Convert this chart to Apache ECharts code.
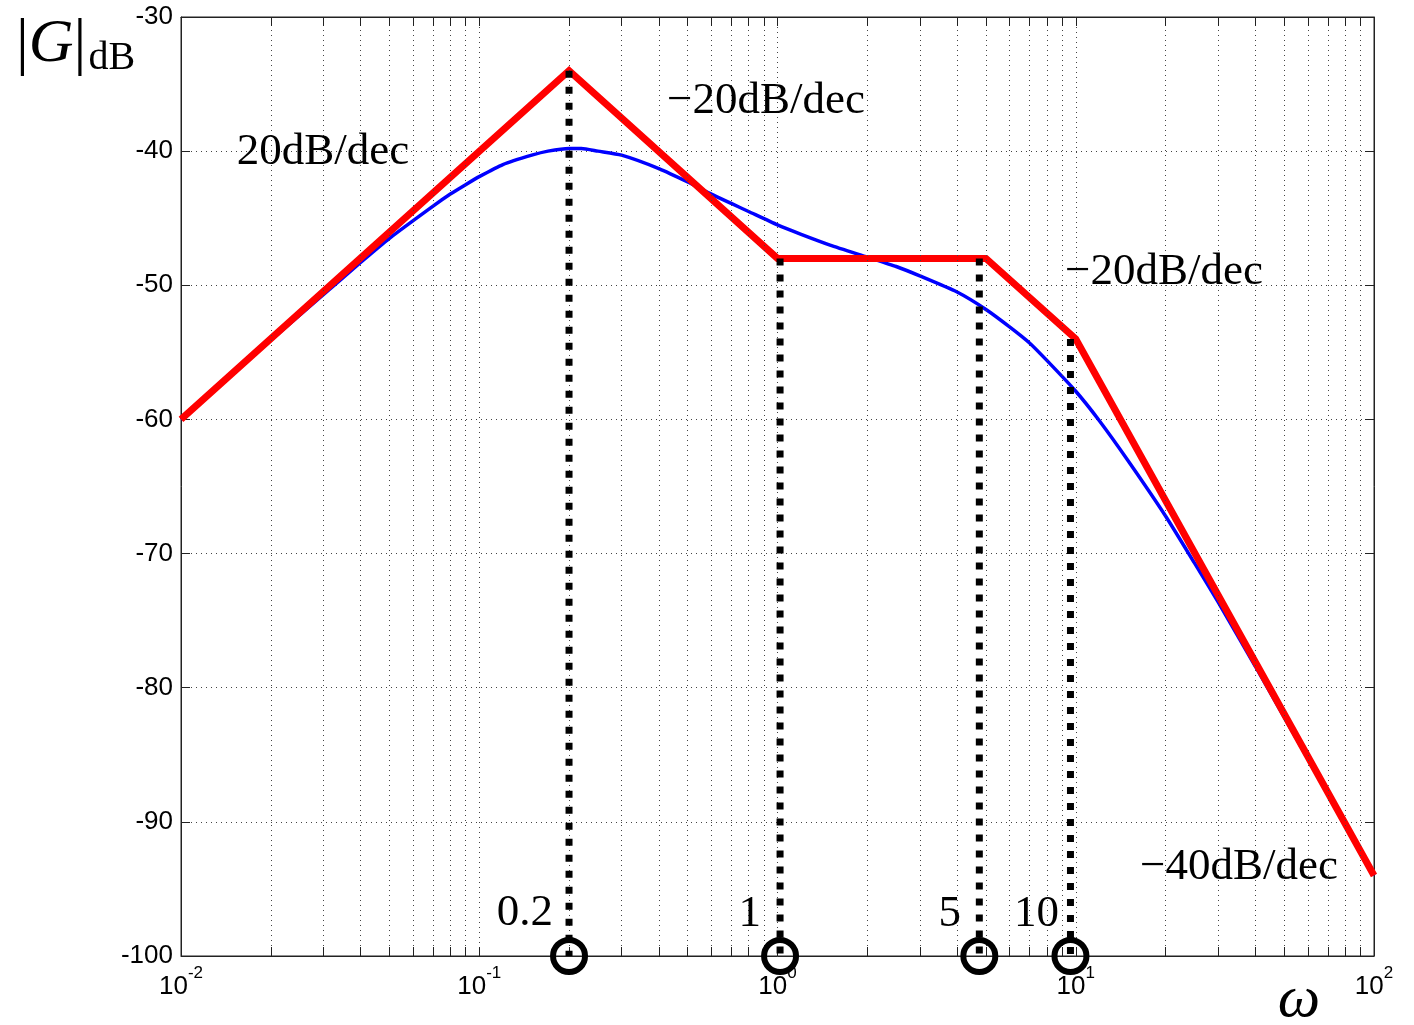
<!DOCTYPE html>
<html>
<head>
<meta charset="utf-8">
<script src="https://cdn.jsdelivr.net/npm/echarts@6/dist/echarts.min.js"></script>
<style>
html,body{margin:0;padding:0;background:#fff;}
#c{width:1414px;height:1025px;}
</style>
</head>
<body>
<div id="c"></div>
<script>
// ---- data ----
// actual magnitude (blue)
const omegaBlue = [0.01,0.015,0.02,0.03,0.04,0.05,0.07,0.08,0.09,0.1,0.12,0.15,0.17,0.2,0.22,0.25,0.3,0.4,0.5,0.6,0.7,0.8,1,1.2,1.5,2,2.5,3,4,5,6,7,8,10,12,15,20,25,30,40,50,70,100];
const magBlue   = [-60.0,-56.5,-54.1,-50.7,-48.3,-46.5,-44.1,-43.2,-42.5,-41.9,-41.0,-40.3,-40.0,-39.8,-39.8,-40.0,-40.3,-41.3,-42.3,-43.2,-43.9,-44.5,-45.5,-46.2,-47.0,-47.9,-48.6,-49.3,-50.5,-51.8,-53.1,-54.3,-55.6,-57.9,-60.1,-63.1,-67.2,-70.7,-73.6,-78.4,-82.2,-87.9,-94.0];
// asymptotic approximation (red)
const omegaRed = [0.01,0.2,1,5,10,100];
const magRed   = [-60,-34,-48,-48,-54,-94];
// corner-frequency markers (dotted lines + circles), as drawn
const markerOmega = [0.2,1.02,4.75,9.6];
const markerTop   = [-34,-48,-48,-54];
const markerText  = ['0.2','1','5','10'];
const slopeText   = ['20dB/dec','\u221220dB/dec','\u221220dB/dec','\u221240dB/dec'];
// axes
const xMin = 0.01, xMax = 100;
const yMin = -100, yMax = -30, yStep = 10;
const decades = [0.01,0.1,1,10];
const minorMult = [2,3,4,5,6,7,8,9];

const minorVals = [];
decades.forEach(d => minorMult.forEach(m => minorVals.push(+(d*m).toPrecision(3))));

const chart = echarts.init(document.getElementById('c'), null, {renderer:'canvas'});

const gridDot = {color:'#444', width:1, type:[1,4]};
const tickLen = 9;
const tickDb = tickLen * (yMax - yMin) / (1025 - 17 - 69);

const dottedSeries = markerOmega.map((w,i) => ({
  type:'line', data:[[w,markerTop[i]],[w,yMin]], symbol:'none', z:5,
  lineStyle:{color:'#000', width:7, type:[7,9], cap:'butt', opacity:1}, animation:false, silent:true
}));

const serif = '"Liberation Serif", "DejaVu Serif", serif';

const option = {
  animation:false,
  backgroundColor:'#fff',
  grid:{left:181, right:40, top:17, bottom:69, show:true, borderColor:'#222', borderWidth:1, backgroundColor:'transparent'},
  xAxis:[{
    type:'log', logBase:10, min:xMin, max:xMax, splitNumber:4,
    axisLine:{show:true, onZero:false, lineStyle:{color:'#222', width:1}},
    axisTick:{show:true, inside:true, length:tickLen, lineStyle:{color:'#222'}},
    splitLine:{show:true, lineStyle:gridDot},
    axisLabel:{
      margin:9,
      formatter:(v)=>'{b|10}{s|' + Math.round(Math.log10(v)) + '}',
      rich:{
        b:{fontFamily:'"Liberation Sans", Arial, sans-serif', fontSize:26, color:'#000'},
        s:{fontFamily:'"Liberation Sans", Arial, sans-serif', fontSize:17, color:'#000', padding:[0,0,27,0]}
      }
    }
  },{
    type:'log', logBase:10, min:xMin, max:xMax, splitNumber:4, position:'top',
    axisLine:{show:true, onZero:false, lineStyle:{color:'#222', width:1}},
    axisTick:{show:true, inside:true, length:tickLen, lineStyle:{color:'#222'}},
    axisLabel:{show:false}, splitLine:{show:false}
  }],
  yAxis:[{
    type:'value', min:yMin, max:yMax, interval:yStep,
    axisLine:{show:true, onZero:false, lineStyle:{color:'#222', width:1}},
    axisTick:{show:true, inside:true, length:tickLen, lineStyle:{color:'#222'}},
    splitLine:{show:true, lineStyle:gridDot},
    axisLabel:{margin:8, fontFamily:'"Liberation Sans", Arial, sans-serif', fontSize:26, color:'#000'}
  },{
    type:'value', min:yMin, max:yMax, interval:yStep, position:'right',
    axisLine:{show:true, onZero:false, lineStyle:{color:'#222', width:1}},
    axisTick:{show:true, inside:true, length:tickLen, lineStyle:{color:'#222'}},
    axisLabel:{show:false}, splitLine:{show:false}
  }],
  series:[
    {
      type:'line', data:[], silent:true, z:1,
      markLine:{
        silent:true, symbol:'none', label:{show:false}, animation:false,
        data: [
          ...minorVals.map(v => ({xAxis:v, lineStyle:gridDot})),
          ...minorVals.map(v => [{coord:[v,yMin], lineStyle:{color:'#222', width:1, type:'solid'}},{coord:[v,yMin+tickDb]}]),
          ...minorVals.map(v => [{coord:[v,yMax], lineStyle:{color:'#222', width:1, type:'solid'}},{coord:[v,yMax-tickDb]}])
        ]
      }
    },
    {
      type:'line', name:'actual', data:omegaBlue.map((w,i)=>[w,magBlue[i]]),
      symbol:'none', smooth:0.2, z:3,
      lineStyle:{color:'#0000ff', width:3.5}
    },
    {
      type:'line', name:'asymptote', data:omegaRed.map((w,i)=>[w,magRed[i]]),
      symbol:'none', z:4,
      lineStyle:{color:'#ff0000', width:7, join:'miter'}
    },
    ...dottedSeries,
    {
      type:'scatter', data:markerOmega.map(w=>[w,yMin]), clip:false, z:6,
      symbol:'circle', symbolSize:32,
      itemStyle:{color:'rgba(0,0,0,0)', borderColor:'#000', borderWidth:6, opacity:1}
    }
  ],
  graphic:[
    {type:'text', x:16, y:12, z:10, style:{
      text:'{v||}{g|G}{v||}{d|dB}',
      rich:{
        v:{fontFamily:serif, fontSize:64, fill:'#000', color:'#000'},
        g:{fontFamily:serif, fontStyle:'italic', fontSize:62, color:'#000', fill:'#000'},
        d:{fontFamily:serif, fontSize:40, color:'#000', fill:'#000', padding:[26,0,0,2]}
      }
    }},
    {type:'text', x:323, y:152, z:10, style:{text:slopeText[0], font:'45px '+serif, fill:'#000', align:'center', verticalAlign:'middle'}},
    {type:'text', x:766, y:101, z:10, style:{text:slopeText[1], font:'45px '+serif, fill:'#000', align:'center', verticalAlign:'middle'}},
    {type:'text', x:1164, y:272, z:10, style:{text:slopeText[2], font:'45px '+serif, fill:'#000', align:'center', verticalAlign:'middle'}},
    {type:'text', x:1239, y:867, z:10, style:{text:slopeText[3], font:'45px '+serif, fill:'#000', align:'center', verticalAlign:'middle'}},
    {type:'text', x:553, y:913, z:10, style:{text:markerText[0], font:'45px '+serif, fill:'#000', align:'right', verticalAlign:'middle'}},
    {type:'text', x:761, y:914, z:10, style:{text:markerText[1], font:'45px '+serif, fill:'#000', align:'right', verticalAlign:'middle'}},
    {type:'text', x:961, y:914, z:10, style:{text:markerText[2], font:'45px '+serif, fill:'#000', align:'right', verticalAlign:'middle'}},
    {type:'text', x:1059, y:914, z:10, style:{text:markerText[3], font:'45px '+serif, fill:'#000', align:'right', verticalAlign:'middle'}},
    {type:'text', x:1299, y:1000, z:10, style:{text:'\u03C9', font:'italic 60px '+serif, fill:'#000', align:'center', verticalAlign:'middle'}}
  ]
};
chart.setOption(option);
</script>
</body>
</html>
